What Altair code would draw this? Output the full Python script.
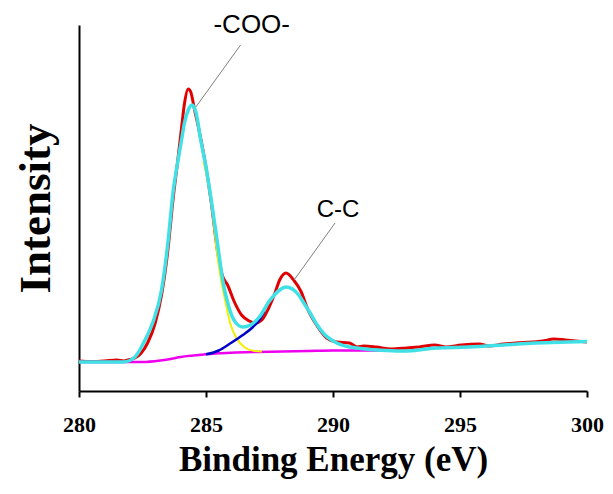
import altair as alt
import pandas as pd

# ---- data (binding energy in eV, intensity in a.u.) ----
x_ticks = [280, 285, 290, 295, 300]

raw_ev = [280.0, 280.5, 281.0, 281.5, 281.75, 282.0, 282.2, 282.45, 282.7, 283.0,
          283.25, 283.5, 283.7, 283.9, 284.05, 284.15, 284.3, 284.4, 284.55, 284.7,
          284.95, 285.2, 285.45, 285.65, 285.85, 286.1, 286.4, 286.7, 286.95, 287.2,
          287.45, 287.7, 287.9, 288.15, 288.45, 288.75, 289.0, 289.4, 289.75, 290.15,
          290.65, 290.95, 291.2, 291.7, 292.3, 292.9, 293.4, 294.0, 294.45, 295.05,
          295.75, 296.15, 296.7, 297.2, 297.85, 298.25, 298.7, 299.15, 299.55, 300.0]
raw_i = [30, 29.5, 30, 31, 30, 31.5, 33, 38, 48, 68,
         96, 141, 191, 233, 266, 287, 302, 299, 281, 264,
         231, 190, 140, 115, 106, 90, 76, 70, 68, 71,
         82, 97, 111, 118, 111, 99, 82, 64, 53, 49,
         48, 44, 45, 44, 42, 43, 44, 46, 44, 46,
         47, 45, 47, 48, 49, 50, 52, 51, 50, 49]

fit_ev = [280.0, 281.0, 281.75, 282.2, 282.6, 282.9, 283.25, 283.5, 283.7, 283.9,
          284.05, 284.15, 284.3, 284.45, 284.6, 284.8, 285.0, 285.2, 285.45, 285.65,
          285.9, 286.15, 286.45, 286.75, 287.1, 287.5, 287.9, 288.15, 288.4, 288.65,
          288.9, 289.1, 289.35, 289.65, 290.15, 290.65, 290.95, 291.45, 292.1, 292.8,
          294.05, 295.35, 296.7, 297.95, 299.25, 300.0]
fit_i = [29, 29, 29, 34, 51, 68, 101, 148, 198, 231,
         253, 268, 281, 286, 279, 250, 224, 192, 148, 112,
         84, 69, 64, 66, 74, 90, 101, 104, 102, 96,
         86, 78, 67, 57, 48, 44, 43, 41.5, 40.5, 40,
         43, 44, 46, 48, 49, 49.5]

coo_ev = [284.9, 285.2, 285.45, 285.6, 285.75, 285.95, 286.2, 286.5, 286.9, 287.2]
coo_i = [230, 190, 135, 110, 91, 68, 53, 44, 40, 39.5]

cc_ev = [285.0, 285.3, 285.5, 285.95, 286.45, 286.85, 287.1, 287.3]
cc_i = [36.7, 38.5, 40.5, 47.5, 56, 64, 71, 80]

bg_ev = [280.0, 281.5, 282.5, 283.2, 283.7, 284.0, 284.5, 285.0, 285.5, 286.0,
         287.0, 288.0, 289.0, 290.0, 291.0, 292.0, 292.5]
bg_i = [29, 29, 29, 30.5, 32.5, 34, 35.5, 36.7, 37.7, 38.3,
        39, 39.5, 40, 40.5, 40.5, 40.5, 40.5]

label_text = ["-COO-", "C-C"]
label_size = [26, 24]
label_ev = [286.8, 290.2]
label_i = [366, 181]

leader_ev = [286.36, 290.08]
leader_i = [346, 168]
leader_ev2 = [284.6, 288.47]
leader_i2 = [284, 111]

# ---- tables ----
raw = pd.DataFrame({"ev": raw_ev, "i": raw_i})
fit = pd.DataFrame({"ev": fit_ev, "i": fit_i})
coo = pd.DataFrame({"ev": coo_ev, "i": coo_i})
cc = pd.DataFrame({"ev": cc_ev, "i": cc_i})
bg = pd.DataFrame({"ev": bg_ev, "i": bg_i})
labels = pd.DataFrame({"t": label_text, "ev": label_ev, "i": label_i, "s": label_size})
leaders = pd.DataFrame({"ev": leader_ev, "i": leader_i, "ev2": leader_ev2, "i2": leader_i2})

xscale = alt.Scale(domain=[280, 300], nice=False, zero=False)
yscale = alt.Scale(domain=[0, 366], nice=False, zero=False)

xaxis = alt.Axis(
    values=x_ticks, format="d", grid=False, labelFlush=False,
    title="Binding Energy (eV)",
    titleFont="Liberation Serif", titleFontWeight="bold", titleFontSize=35,
    titleColor="black", titleBaseline="alphabetic", titleY=79,
    labelFont="Liberation Serif", labelFontWeight="bold", labelFontSize=22,
    labelColor="black", labelBaseline="alphabetic", labelPadding=34,
    tickColor="black", tickSize=6, tickWidth=2,
    domainColor="black", domainWidth=2,
)
yaxis = alt.Axis(
    grid=False, labels=False, ticks=False,
    title="Intensity",
    titleFont="Liberation Serif", titleFontWeight="bold", titleFontSize=45,
    titleColor="black", titleBaseline="alphabetic", titleX=-30, titleY=183,
    domainColor="black", domainWidth=2,
)

X = alt.X("ev:Q", scale=xscale, axis=xaxis)
Y = alt.Y("i:Q", scale=yscale, axis=yaxis)


def curve(df, color, width):
    return alt.Chart(df).mark_line(
        color=color, strokeWidth=width, interpolate="monotone"
    ).encode(x=X, y=Y)


raw_line = curve(raw, "#e00000", 3)
bg_line = curve(bg, "#ee00ee", 2.5)
coo_line = curve(coo, "#f2ee00", 2)
cc_line = curve(cc, "#0000cc", 2.5)
fit_line = curve(fit, "#3fe0e6", 3.5)

leader_lines = alt.Chart(leaders).mark_rule(color="#808080", strokeWidth=1).encode(
    x=X, y=Y, x2="ev2:Q", y2="i2:Q"
)

label_marks = alt.Chart(labels).mark_text(
    font="Liberation Sans", color="black", baseline="middle", align="center"
).encode(x=X, y=Y, text="t:N", size=alt.Size("s:Q", scale=None, legend=None))

chart = alt.layer(
    raw_line, bg_line, coo_line, cc_line, fit_line, leader_lines, label_marks
).properties(
    width=508, height=366,
    autosize=alt.AutoSizeParams(type="none"),
    padding={"left": 71, "top": 17, "right": 17, "bottom": 88},
).configure_view(stroke=None)

chart.save("out.html", embed_options={"renderer": "svg", "actions": False})
